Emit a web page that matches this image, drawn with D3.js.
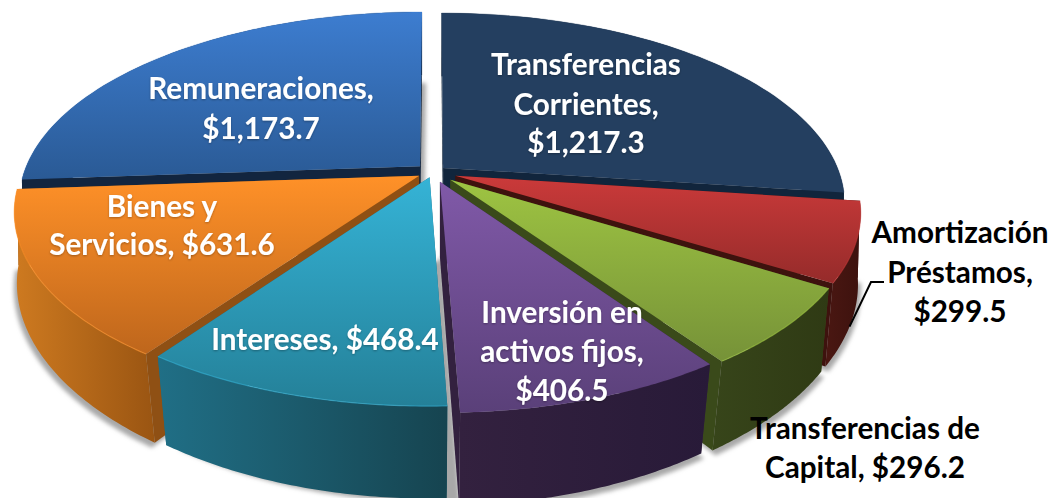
<!DOCTYPE html>
<html><head><meta charset="utf-8">
<script src="https://cdn.jsdelivr.net/npm/d3@7"></script>
<style>html,body{margin:0;padding:0;background:#fff}svg{display:block}text{font-family:Lato,"Open Sans",sans-serif;font-weight:700}</style>
</head><body><svg id="c" width="1049" height="498"></svg>
<script>
const categories=["Transferencias Corrientes","Amortización Préstamos","Transferencias de Capital","Inversión en activos fijos","Intereses","Bienes y Servicios","Remuneraciones"];
const values=[1217.3,299.5,296.2,406.5,468.4,631.6,1173.7];
const explosion=[.034,.06,.06,.055,.03,.04,.045];
const topColors=[["#243F60","#243F60"],["#CB3A3A","#952B2A"],["#9EC442","#769238"],["#8059A8","#5A4079"],["#35B3D6","#248098"],["#FF9128","#BE661C"],["#3D7DD0","#2A5A95"]];
const wallColors=[["#11253C","#11253C"],["#4A1712","#3D120E"],["#37451A","#2F3A14"],["#33213F","#281A38"],["#206F86","#164450"],["#CE7A20","#9A5512"],["#12253F","#12253F"]];
const innerWall=["#11253C","#3E120E","#3A4A1A","#33213F","#1E6A80","#8F5014","#12253F"];
const rimOpacity=[.3,.5,.6,.1,.6,.6,.3];
const shadowOffset=[[3,5],[3,5],[3,5],[3,5],[13,4],[-3,5],[4,8]];
const drawOrder=[6,0,1,2,5,4,3];
const labels=[
 {lines:["Transferencias","Corrientes,","$1,217.3"],x:586,y:[75,115,153],fill:"#fff"},
 {lines:["Amortización","Préstamos,","$299.5"],x:960,y:[243,283,322],fill:"#000"},
 {lines:["Transferencias de","Capital, $296.2"],x:865,y:[439,478],fill:"#000"},
 {lines:["Inversión en","activos fijos,","$406.5"],x:562,y:[323,362,401],fill:"#fff"},
 {lines:["Intereses, $468.4"],x:325,y:[350],fill:"#fff"},
 {lines:["Bienes y","Servicios, $631.6"],x:162,y:[217,255],fill:"#fff"},
 {lines:["Remuneraciones,","$1,173.7"],x:261,y:[99,139],fill:"#fff"}
];
const leaderLine=[[884,282],[871,282]];

const svg=d3.select("#c");
const defs=svg.append("defs");
const cx=433,cy=172,A=396,K=184.6,D=5.45,H=75,inset=.167;
const radius=d3.scaleLinear().domain([0,1]).range([0,1]);
const arcs=d3.pie().sort(null).startAngle(0).endAngle(2*Math.PI)(values);

function plane(t,r,e,mid){return [radius(r)*Math.sin(t)+e*Math.sin(mid),radius(r)*Math.cos(t)+e*Math.cos(mid)];}
function topP(p){const s=D/(D+p[1]);return [cx+A*p[0]*s,cy-K*p[1]*s];}
function baseP(p){const s=D/(D+p[1]);const q=topP(p);const taper=1-Math.max(0,s-1)*inset;return [cx+(q[0]-cx)*taper,q[1]+H*s];}
const line=d3.line();

defs.append("filter").attr("id","blur").attr("x","-10%").attr("y","-10%").attr("width","120%").attr("height","120%")
 .append("feGaussianBlur").attr("stdDeviation",2);
const ts=defs.append("filter").attr("id","ts").attr("x","-10%").attr("y","-20%").attr("width","120%").attr("height","140%");
ts.append("feDropShadow").attr("dx",0).attr("dy",1).attr("stdDeviation",1).attr("flood-color","#000").attr("flood-opacity",.3);

function grad(id,c,x2,y2){const g=defs.append("linearGradient").attr("id",id).attr("x1",0).attr("y1",0).attr("x2",x2).attr("y2",y2);
 g.append("stop").attr("offset",0).attr("stop-color",c[0]);g.append("stop").attr("offset",1).attr("stop-color",c[1]);}

drawOrder.forEach(i=>{
 const a=arcs[i],e=explosion[i],mid=(a.startAngle+a.endAngle)/2;
 grad("t"+i,topColors[i],0,1);grad("w"+i,wallColors[i],1,0);
 const ang=d3.scaleLinear().domain([0,60]).range([a.startAngle,a.endAngle]);
 const rim=d3.range(0,61).map(k=>plane(ang(k),1,e,mid));
 const apex=plane(0,0,e,mid);
 const g=svg.append("g").attr("class","slice").datum(categories[i]);
 const topRim=rim.map(topP),baseRim=rim.map(baseP),tA=topP(apex),bA=baseP(apex);
 g.append("path").attr("d",line([bA,...baseRim])+"Z").attr("fill","#a8a8a8").attr("filter","url(#blur)")
  .attr("transform",`translate(${shadowOffset[i]})`);
 g.append("path").attr("d",line([tA,topRim[0],baseRim[0],bA])+"Z").attr("fill",innerWall[i]);
 g.append("path").attr("d",line([tA,topRim[60],baseRim[60],bA])+"Z").attr("fill",innerWall[i]);
 g.append("path").attr("d",line([...topRim,...baseRim.slice().reverse()])+"Z").attr("fill",`url(#w${i})`);
 g.append("path").attr("d",line([tA,...topRim])+"Z").attr("fill",`url(#t${i})`);
 g.append("path").attr("d",line(topRim)).attr("fill","none").attr("stroke",topColors[i][0]).attr("stroke-opacity",rimOpacity[i]).attr("stroke-width",1.2);
});

// leader for the Amortización label ends on the red slice's outer wall
const ra=arcs[1],rmid=(ra.startAngle+ra.endAngle)/2;
const leaderEnd=baseP(plane(ra.startAngle+(ra.endAngle-ra.startAngle)*.55,1,explosion[1],rmid));
svg.append("path").attr("d",line([...leaderLine,leaderEnd])).attr("fill","none").attr("stroke","#000").attr("stroke-width",2);

labels.forEach(l=>{
 const t=svg.append("text").attr("text-anchor","middle").attr("font-size",29.7).attr("fill",l.fill);
 if(l.fill==="#fff")t.attr("filter","url(#ts)");
 l.lines.forEach((s,j)=>t.append("tspan").attr("x",l.x).attr("y",l.y[j]).text(s));
});
</script></body></html>
